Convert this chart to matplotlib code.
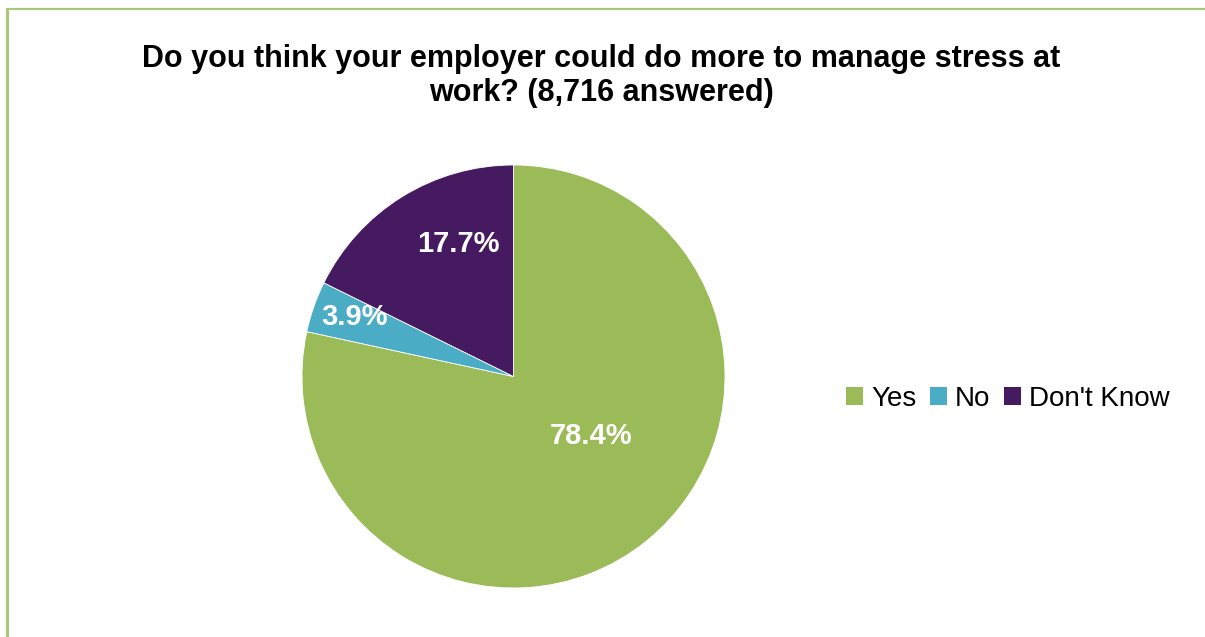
import numpy as np
import matplotlib
matplotlib.use("Agg")
import matplotlib.pyplot as plt
from matplotlib.patches import Patch
from matplotlib.lines import Line2D

plt.rcParams['font.family'] = ['Liberation Sans', 'DejaVu Sans']

categories = ["Yes", "No", "Don't Know"]
shares = [78.4, 3.9, 17.7]
colors = ["#9BBB59", "#4BACC6", "#461A61"]
title = "Do you think your employer could do more to manage stress at\nwork? (8,716 answered)"

W, H = 1205, 637
fig = plt.figure(figsize=(W / 100, H / 100), dpi=100)

# chart-area border (left and top edges visible)
border = "#A9C97A"
fig.add_artist(Line2D([6.5 / W, 6.5 / W], [0, 1 - 9 / H], color=border, lw=2.2, transform=fig.transFigure))
fig.add_artist(Line2D([6.5 / W, 1], [1 - 9 / H, 1 - 9 / H], color=border, lw=1.5, transform=fig.transFigure))

cx, cy, r = 513.5, 376.5, 211.5
ax = fig.add_axes([(cx - r) / W, (H - cy - r) / H, 2 * r / W, 2 * r / H])
wedges, _, autotexts = ax.pie(
    shares, colors=colors, startangle=90, counterclock=False,
    autopct=lambda p: f"{p:.1f}%", radius=1,
    wedgeprops=dict(linewidth=0.6, edgecolor="white"),
    textprops=dict(color="white", fontsize=21, fontweight="bold"),
)
ax.set_xlim(-1, 1)
ax.set_ylim(-1, 1)
ax.set_aspect("equal")
ax.axis("off")

# label placement (angle in degrees, fraction of radius)
label_spots = [(-37.5, 0.46), (159.5, 0.80), (112.7, 0.68)]
for t, (ang, rr) in zip(autotexts, label_spots):
    a = np.deg2rad(ang)
    t.set_position((rr * np.cos(a), rr * np.sin(a)))
    t.set_ha("center")
    t.set_va("center")

fig.text(601 / W, 1 - 76 / H, title, ha="center", va="center",
         fontsize=22, fontweight="bold", linespacing=1.18)

handles = [Patch(facecolor=c, edgecolor="none") for c in colors]
fig.legend(handles, categories, loc="center", bbox_to_anchor=(1008 / W, 1 - 399 / H),
           ncol=3, frameon=False, fontsize=20, handlelength=0.6, handleheight=0.6,
           handletextpad=0.3, columnspacing=0.5, borderaxespad=0)

fig.savefig("out.png", dpi=100, facecolor="white")
